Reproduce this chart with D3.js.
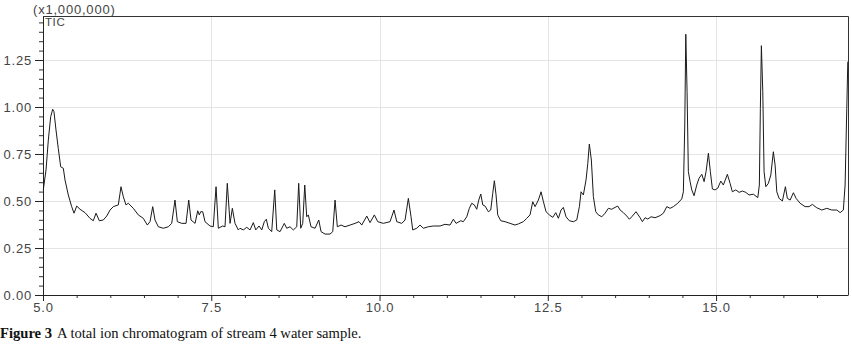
<!DOCTYPE html>
<html>
<head>
<meta charset="utf-8">
<script src="https://cdn.jsdelivr.net/npm/d3@7"></script>
<style>
	body { margin: 0; background: #fff; }
	svg { display: block; }
</style>
</head>
<body>
<div id="chart"></div>
<script>
// retention time (min) and TIC intensity (x1,000,000)
const times = [
	5.004, 5.045, 5.079, 5.114, 5.144, 5.163, 5.193, 5.227, 5.263, 5.302, 5.327, 5.376, 5.426, 5.461, 5.501, 5.550,
	5.624, 5.698, 5.747, 5.788, 5.837, 5.896, 5.947, 5.996, 6.045, 6.119, 6.159, 6.193, 6.233, 6.267, 6.342, 6.416,
	6.490, 6.550, 6.590, 6.630, 6.664, 6.713, 6.788, 6.862, 6.912, 6.961, 6.996, 7.061, 7.125, 7.165, 7.199, 7.259,
	7.299, 7.322, 7.343, 7.373, 7.407, 7.481, 7.530, 7.571, 7.605, 7.670, 7.704, 7.738, 7.779, 7.813, 7.853, 7.902,
	7.927, 7.976, 8.027, 8.076, 8.125, 8.161, 8.210, 8.250, 8.288, 8.318, 8.348, 8.398, 8.443, 8.473, 8.522, 8.585,
	8.621, 8.670, 8.719, 8.770, 8.799, 8.829, 8.859, 8.889, 8.918, 8.942, 8.982, 9.042, 9.097, 9.131, 9.190, 9.264,
	9.305, 9.339, 9.373, 9.428, 9.487, 9.562, 9.636, 9.695, 9.736, 9.810, 9.859, 9.923, 9.973, 10.056, 10.156, 10.215,
	10.256, 10.330, 10.379, 10.428, 10.468, 10.493, 10.553, 10.602, 10.651, 10.725, 10.799, 10.899, 10.973, 11.047, 11.097, 11.137,
	11.207, 11.245, 11.296, 11.334, 11.370, 11.409, 11.444, 11.474, 11.504, 11.534, 11.568, 11.617, 11.652, 11.682, 11.706, 11.731,
	11.756, 11.801, 11.865, 11.939, 12.013, 12.062, 12.137, 12.187, 12.236, 12.276, 12.311, 12.360, 12.400, 12.435, 12.474, 12.523,
	12.574, 12.618, 12.657, 12.697, 12.731, 12.771, 12.820, 12.880, 12.930, 12.969, 12.994, 13.028, 13.068, 13.094, 13.117, 13.147,
	13.177, 13.212, 13.251, 13.302, 13.351, 13.400, 13.450, 13.499, 13.539, 13.574, 13.623, 13.673, 13.712, 13.747, 13.811, 13.871,
	13.905, 13.945, 13.985, 14.034, 14.094, 14.168, 14.217, 14.268, 14.317, 14.366, 14.431, 14.490, 14.514, 14.535, 14.550, 14.569,
	14.588, 14.614, 14.639, 14.673, 14.713, 14.747, 14.788, 14.822, 14.851, 14.886, 14.915, 14.945, 14.985, 15.025, 15.070, 15.108,
	15.168, 15.208, 15.242, 15.293, 15.342, 15.391, 15.441, 15.490, 15.554, 15.620, 15.643, 15.658, 15.673, 15.694, 15.713, 15.739,
	15.777, 15.813, 15.851, 15.877, 15.902, 15.936, 15.985, 16.030, 16.059, 16.100, 16.149, 16.189, 16.248, 16.322, 16.382, 16.431,
	16.496, 16.571, 16.645, 16.719, 16.794, 16.843, 16.891, 16.917, 16.942, 16.957
];
const intensity = [
	0.559, 0.665, 0.824, 0.948, 0.988, 0.975, 0.878, 0.780, 0.682, 0.674, 0.612, 0.532, 0.470, 0.435, 0.473, 0.456,
	0.438, 0.408, 0.395, 0.435, 0.395, 0.399, 0.420, 0.452, 0.470, 0.479, 0.576, 0.523, 0.479, 0.488, 0.461, 0.426,
	0.408, 0.372, 0.390, 0.470, 0.399, 0.363, 0.355, 0.363, 0.381, 0.505, 0.390, 0.381, 0.381, 0.505, 0.399, 0.381,
	0.448, 0.426, 0.443, 0.443, 0.390, 0.367, 0.363, 0.576, 0.355, 0.367, 0.363, 0.594, 0.381, 0.461, 0.381, 0.346,
	0.355, 0.346, 0.360, 0.346, 0.385, 0.346, 0.367, 0.346, 0.390, 0.403, 0.355, 0.337, 0.559, 0.346, 0.337, 0.381,
	0.355, 0.363, 0.346, 0.363, 0.594, 0.355, 0.381, 0.585, 0.416, 0.426, 0.363, 0.355, 0.399, 0.337, 0.324, 0.324,
	0.337, 0.505, 0.363, 0.372, 0.363, 0.372, 0.381, 0.390, 0.372, 0.420, 0.385, 0.426, 0.390, 0.381, 0.390, 0.452,
	0.390, 0.381, 0.399, 0.514, 0.416, 0.346, 0.355, 0.372, 0.355, 0.363, 0.367, 0.367, 0.376, 0.372, 0.403, 0.381,
	0.395, 0.390, 0.416, 0.461, 0.488, 0.479, 0.456, 0.505, 0.537, 0.479, 0.473, 0.443, 0.452, 0.541, 0.608, 0.532,
	0.426, 0.395, 0.390, 0.381, 0.372, 0.378, 0.390, 0.408, 0.426, 0.496, 0.470, 0.505, 0.549, 0.496, 0.443, 0.426,
	0.413, 0.438, 0.408, 0.452, 0.466, 0.416, 0.395, 0.390, 0.399, 0.470, 0.549, 0.532, 0.612, 0.700, 0.803, 0.718,
	0.523, 0.443, 0.426, 0.416, 0.435, 0.461, 0.456, 0.466, 0.473, 0.452, 0.438, 0.420, 0.403, 0.416, 0.443, 0.411,
	0.390, 0.411, 0.404, 0.416, 0.411, 0.422, 0.435, 0.470, 0.461, 0.470, 0.488, 0.511, 0.549, 0.904, 1.387, 1.081,
	0.656, 0.603, 0.559, 0.528, 0.585, 0.621, 0.642, 0.603, 0.656, 0.754, 0.656, 0.564, 0.559, 0.568, 0.606, 0.585,
	0.642, 0.594, 0.549, 0.559, 0.546, 0.553, 0.546, 0.532, 0.536, 0.518, 0.585, 0.993, 1.326, 1.081, 0.656, 0.576,
	0.594, 0.638, 0.762, 0.691, 0.549, 0.514, 0.500, 0.576, 0.514, 0.505, 0.544, 0.514, 0.488, 0.470, 0.470, 0.482,
	0.464, 0.452, 0.461, 0.452, 0.452, 0.438, 0.452, 0.585, 0.993, 1.241
];
const xMajorTicks = [5.0, 7.5, 10.0, 12.5, 15.0];
const yMajorTicks = [0.0, 0.25, 0.5, 0.75, 1.0, 1.25];
const xDomain = [5.0, 16.96];
const yDomain = [0, 1.484];

const WIDTH = 852;
const HEIGHT = 347;
const margin = { top: 16, right: 4, bottom: 52, left: 43 };
const innerW = WIDTH - margin.left - margin.right;
const innerH = HEIGHT - margin.top - margin.bottom;

const svg = d3
	.select("#chart")
	.append("svg")
	.attr("width", WIDTH)
	.attr("height", HEIGHT)
	.style("font-family", "Arial, 'Liberation Sans', sans-serif");

const x = d3.scaleLinear().domain(xDomain).range([margin.left, margin.left + innerW]);
const y = d3.scaleLinear().domain(yDomain).range([margin.top + innerH, margin.top]);

// minor tick positions
const xMinor = d3.range(5.5, xDomain[1], 0.5).filter((v) => Math.abs(v / 2.5 - Math.round(v / 2.5)) > 1e-6);
const yMinor = d3.range(0.05, yDomain[1], 0.05).filter((v) => Math.abs(v / 0.25 - Math.round(v / 0.25)) > 1e-6);

// grid
svg.append("g")
	.selectAll("line")
	.data(yMajorTicks.filter((d) => d > 0))
	.join("line")
	.attr("x1", margin.left)
	.attr("x2", margin.left + innerW)
	.attr("y1", (d) => Math.round(y(d)) + 0.5)
	.attr("y2", (d) => Math.round(y(d)) + 0.5)
	.attr("stroke", "#e4e4e4");

svg.append("g")
	.selectAll("line")
	.data(xMajorTicks.filter((d) => d > 5))
	.join("line")
	.attr("x1", (d) => Math.round(x(d)) + 0.5)
	.attr("x2", (d) => Math.round(x(d)) + 0.5)
	.attr("y1", margin.top)
	.attr("y2", margin.top + innerH)
	.attr("stroke", "#e4e4e4");

// minor ticks
svg.append("g")
	.attr("transform", `translate(0,${margin.top + innerH})`)
	.call(d3.axisBottom(x).tickValues(xMinor).tickSize(3).tickFormat(""))
	.call((g) => g.select(".domain").remove())
	.call((g) => g.selectAll("line").attr("stroke", "#333"));

svg.append("g")
	.attr("transform", `translate(${margin.left},0)`)
	.call(d3.axisLeft(y).tickValues(yMinor).tickSize(4).tickFormat(""))
	.call((g) => g.select(".domain").remove())
	.call((g) => g.selectAll("line").attr("stroke", "#333"));

// major axes
svg.append("g")
	.attr("transform", `translate(0,${margin.top + innerH})`)
	.call(d3.axisBottom(x).tickValues(xMajorTicks).tickSize(6).tickPadding(2).tickFormat(d3.format(".1f")).tickSizeOuter(0))
	.call((g) => g.select(".domain").attr("stroke", "#222"))
	.call((g) => g.selectAll("line").attr("stroke", "#222"))
	.call((g) => g.selectAll("text").attr("fill", "#444").style("font-size", "13px").style("letter-spacing", "0.8px"));

svg.append("g")
	.attr("transform", `translate(${margin.left},0)`)
	.call(d3.axisLeft(y).tickValues(yMajorTicks).tickSize(8).tickPadding(3).tickFormat(d3.format(".2f")).tickSizeOuter(0))
	.call((g) => g.select(".domain").attr("stroke", "#222"))
	.call((g) => g.selectAll("line").attr("stroke", "#222"))
	.call((g) => g.selectAll("text").attr("fill", "#444").style("font-size", "13px").style("letter-spacing", "0.8px"));

// top and right frame
svg.append("path")
	.attr("d", `M${margin.left},${margin.top + 0.5}H${margin.left + innerW + 0.5}V${margin.top + innerH}`)
	.attr("fill", "none")
	.attr("stroke", "#333");

// chromatogram trace
const points = times.map((t, i) => [t, intensity[i]]);
const line = d3
	.line()
	.x((d) => x(d[0]))
	.y((d) => y(d[1]));

svg.append("path")
	.datum(points)
	.attr("d", line)
	.attr("fill", "none")
	.attr("stroke", "#1a1a1a")
	.attr("stroke-width", 1)
	.attr("stroke-linejoin", "round");

// labels
svg.append("text")
	.attr("x", 33)
	.attr("y", 14)
	.attr("fill", "#444")
	.style("font-size", "13px")
	.style("letter-spacing", "0.8px")
	.text("(x1,000,000)");

svg.append("text")
	.attr("x", 45)
	.attr("y", 26)
	.attr("fill", "#444")
	.style("font-size", "11.5px")
	.style("letter-spacing", "0.6px")
	.text("TIC");

const caption = svg.append("text")
	.attr("x", 0)
	.attr("y", 338)
	.attr("fill", "#111")
	.style("font-family", "'Liberation Serif', 'Times New Roman', serif")
	.style("font-size", "14.6px");
caption.append("tspan").style("font-weight", "bold").text("Figure 3");
caption.append("tspan").attr("dx", 5).text("A total ion chromatogram of stream 4 water sample.");
</script>
</body>
</html>
